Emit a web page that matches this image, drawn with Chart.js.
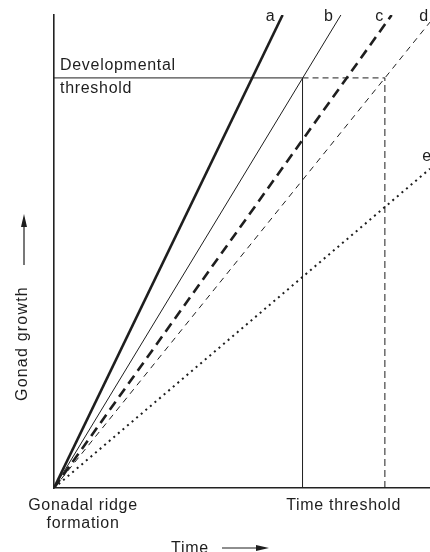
<!DOCTYPE html>
<html>
<head>
<meta charset="utf-8">
<script src="https://cdn.jsdelivr.net/npm/chart.js@4.4.1/dist/chart.umd.min.js"></script>
<style>
  html, body { margin: 0; padding: 0; background: #fff; }
  #wrap { width: 430px; height: 552px; }
</style>
</head>
<body>
<div id="wrap"><canvas id="chart"></canvas></div>
<script>
// Growth lines, all starting at gonadal ridge formation (0, 0)
const lineNames = ['a', 'b', 'c', 'd', 'e'];
const lineEndX = [6.08, 7.63, 8.98, 10, 10];
const lineEndY = [10, 10, 10, 9.85, 6.75];

// Thresholds
const devThreshold = 8.67;
const timeThresholds = [6.61, 8.8];

const axisMax = 10;
const ink = '#1e1e1e';

function growthLine(i, width, dash) {
  return {
    label: lineNames[i],
    data: [{ x: 0, y: 0 }, { x: lineEndX[i], y: lineEndY[i] }],
    borderColor: ink,
    borderWidth: width,
    borderDash: dash,
    pointRadius: 0,
    fill: false
  };
}

function guide(points, dash) {
  return {
    label: 'guide',
    data: points,
    borderColor: ink,
    borderWidth: 1,
    borderDash: dash,
    pointRadius: 0,
    fill: false
  };
}

const datasets = [
  growthLine(0, 2.6, []),
  growthLine(1, 1, []),
  growthLine(2, 2.6, [10, 6]),
  growthLine(3, 1, [6, 5]),
  growthLine(4, 2, [2, 4]),
  guide([{ x: 0, y: devThreshold }, { x: timeThresholds[0], y: devThreshold }], []),
  guide([{ x: timeThresholds[0], y: devThreshold }, { x: timeThresholds[1], y: devThreshold }], [6, 4]),
  guide([{ x: timeThresholds[0], y: 0 }, { x: timeThresholds[0], y: devThreshold }], []),
  guide([{ x: timeThresholds[1], y: 0 }, { x: timeThresholds[1], y: devThreshold }], [7, 4])
];

// Text labels and axis arrows
const labelsPlugin = {
  id: 'labels',
  afterDraw(chart) {
    const ctx = chart.ctx;
    const xs = chart.scales.x;
    const ys = chart.scales.y;
    const area = chart.chartArea;
    ctx.save();
    ctx.fillStyle = ink;
    ctx.strokeStyle = ink;
    ctx.font = '16px "Liberation Sans", Arial, sans-serif';
    ctx.letterSpacing = '0.7px';
    ctx.textBaseline = 'middle';

    // line letters
    ctx.textAlign = 'center';
    lineNames.forEach((n, i) => {
      const px = xs.getPixelForValue(lineEndX[i]);
      const py = ys.getPixelForValue(lineEndY[i]);
      if (n === 'e') ctx.fillText(n, px - 3, py - 12);
      else if (n === 'd') ctx.fillText(n, px - 6, py - 6);
      else ctx.fillText(n, px - 12, py + 2);
    });

    // developmental threshold
    ctx.textAlign = 'left';
    const ty = ys.getPixelForValue(devThreshold);
    ctx.fillText('Developmental', area.left + 6, ty - 12);
    ctx.fillText('threshold', area.left + 6, ty + 11);

    // x axis captions
    ctx.textAlign = 'center';
    ctx.fillText('Gonadal ridge', area.left + 29, area.bottom + 18);
    ctx.fillText('formation', area.left + 29, area.bottom + 36);
    const tx = (xs.getPixelForValue(timeThresholds[0]) + xs.getPixelForValue(timeThresholds[1])) / 2;
    ctx.fillText('Time threshold', tx, area.bottom + 18);

    // x axis title with arrow
    ctx.textAlign = 'left';
    ctx.fillText('Time', 171, area.bottom + 61);
    ctx.lineWidth = 1.2;
    ctx.beginPath();
    ctx.moveTo(222, area.bottom + 60);
    ctx.lineTo(262, area.bottom + 60);
    ctx.stroke();
    ctx.beginPath();
    ctx.moveTo(269, area.bottom + 60);
    ctx.lineTo(256, area.bottom + 57);
    ctx.lineTo(256, area.bottom + 63);
    ctx.closePath();
    ctx.fill();

    // y axis title with arrow
    ctx.save();
    ctx.translate(23, 401);
    ctx.rotate(-Math.PI / 2);
    ctx.textAlign = 'left';
    ctx.letterSpacing = '1.2px';
    ctx.fillText('Gonad growth', 0, 0);
    ctx.beginPath();
    ctx.moveTo(136, 1);
    ctx.lineTo(180, 1);
    ctx.stroke();
    ctx.beginPath();
    ctx.moveTo(187, 1);
    ctx.lineTo(174, -2);
    ctx.lineTo(174, 4);
    ctx.closePath();
    ctx.fill();
    ctx.restore();

    ctx.restore();
  }
};

new Chart(document.getElementById('chart'), {
  type: 'line',
  data: { datasets: datasets },
  options: {
    responsive: true,
    maintainAspectRatio: false,
    animation: false,
    layout: { padding: { left: 54, right: 0, top: 15, bottom: 64 } },
    plugins: { legend: { display: false }, tooltip: { enabled: false } },
    scales: {
      x: {
        type: 'linear',
        min: 0,
        max: axisMax,
        grid: { display: false, drawTicks: false },
        ticks: { display: false },
        border: { display: true, color: '#222', width: 1.6 }
      },
      y: {
        type: 'linear',
        min: 0,
        max: axisMax,
        grid: { display: false, drawTicks: false },
        ticks: { display: false },
        border: { display: true, color: '#222', width: 1.6 }
      }
    }
  },
  plugins: [labelsPlugin]
});
</script>
</body>
</html>
